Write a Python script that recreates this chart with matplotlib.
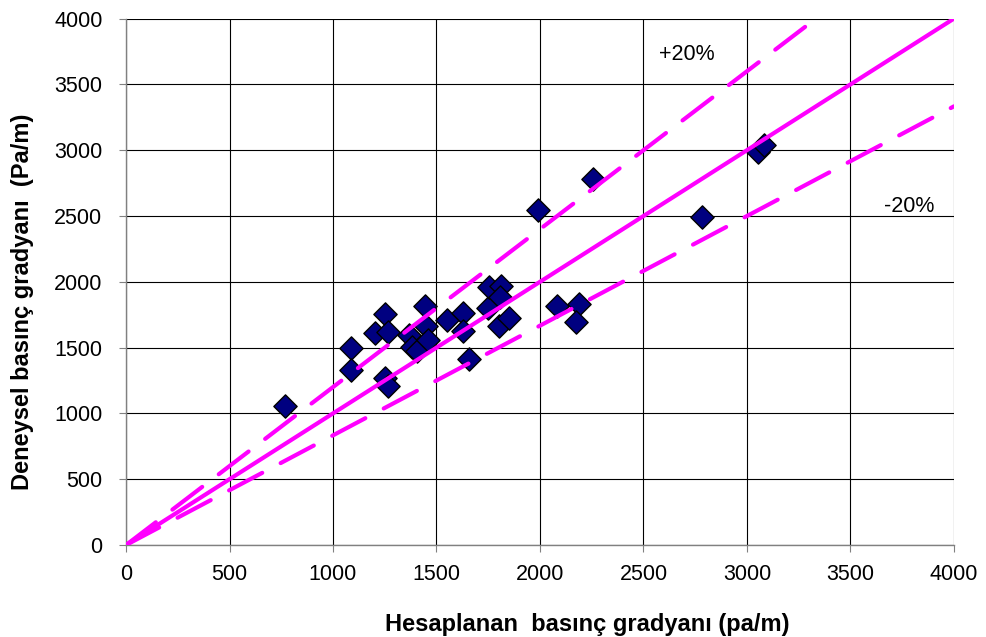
import matplotlib
matplotlib.use('Agg')
import matplotlib.pyplot as plt
import numpy as np

plt.rcParams['font.family'] = ['Liberation Sans', 'DejaVu Sans']

# calculated (x) vs measured (y) pressure gradient, Pa/m
hesaplanan = [768, 1085, 1085, 1201, 1250, 1267, 1250, 1267, 1367, 1380, 1404,
              1446, 1449, 1457, 1551, 1628, 1628, 1657, 1747, 1752, 1811, 1807,
              1800, 1850, 1990, 2080, 2187, 2172, 2257, 2781, 3055, 3082]
deneysel = [1059, 1500, 1331, 1609, 1754, 1617, 1267, 1209, 1597, 1508, 1477,
            1817, 1667, 1558, 1710, 1761, 1630, 1413, 1800, 1963, 1970, 1888,
            1666, 1722, 2546, 1815, 1831, 1691, 2778, 2496, 2990, 3040]

line_x = [0, 4000]
upper_x = [0, 4000 / 1.2]
band = 0.2

fig = plt.figure(figsize=(9.86, 6.37), dpi=100)
ax = fig.add_axes([0.1278, 0.1444, 0.8397, 0.8264])

ax.scatter(hesaplanan, deneysel, marker='D', s=140, c='#000080',
           edgecolors='black', linewidths=1, zorder=3)

mag = '#FF00FF'
ax.plot(line_x, line_x, color=mag, lw=3, solid_capstyle='butt', zorder=4)
ax.plot(upper_x, [v * (1 + band) for v in upper_x], color=mag, lw=3,
        dashes=(9, 5.0), dash_capstyle='round', zorder=4)
ax.plot(line_x, [v / (1 + band) for v in line_x], color=mag, lw=3,
        dashes=(9, 5.0), dash_capstyle='round', zorder=4)

ax.text(2709, 3724, '+20%', fontsize=15.5, ha='center', va='center')
ax.text(3783, 2571, '-20%', fontsize=15.5, ha='center', va='center')

ax.set_xlim(0, 4000)
ax.set_ylim(0, 4000)
ticks = np.arange(0, 4001, 500)
ax.set_xticks(ticks)
ax.set_yticks(ticks)
ax.tick_params(labelsize=15.5, length=5, color='#808080', direction='out')
ax.tick_params(axis='y', pad=12)
ax.tick_params(axis='x', pad=9)
ax.grid(True, color='black', lw=0.8)
ax.set_axisbelow(True)
for s in ['top', 'right']:
    ax.spines[s].set_visible(False)
for s in ['left', 'bottom']:
    ax.spines[s].set_color('#808080')
    ax.spines[s].set_linewidth(1)

fig.text(0.5953, 0.0204, 'Hesaplanan  basınç gradyanı (pa/m)', fontsize=17,
         fontweight='bold', ha='center', va='center')
fig.text(0.0233, 0.5267, 'Deneysel basınç gradyanı  (Pa/m)', fontsize=17,
         fontweight='bold', ha='center', va='center', rotation=90)

fig.savefig('out.png', dpi=100)
